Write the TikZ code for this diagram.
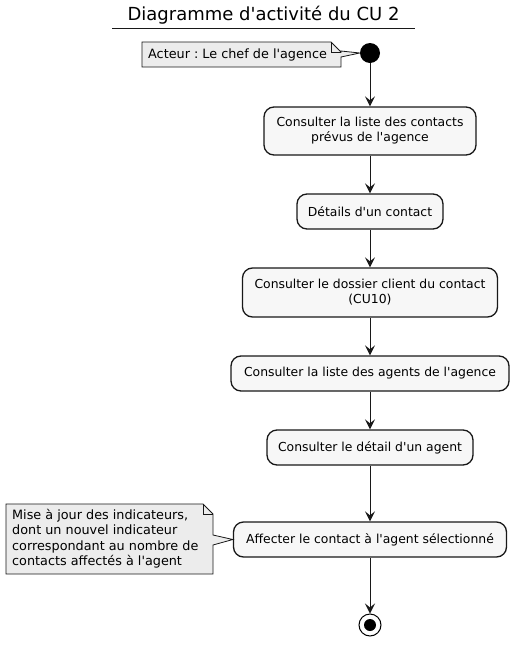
\documentclass[tikz,border=0pt]{standalone}
\usepackage{fontspec}
\setmainfont{DejaVu Sans}[Ligatures=TeXOff]
\frenchspacing
\usetikzlibrary{arrows.meta}
\definecolor{actfill}{HTML}{F7F7F7}
\definecolor{notefill}{HTML}{ECECEC}
\definecolor{ink}{HTML}{181818}
\tikzset{
  act/.style={draw=ink, line width=1.3pt, fill=actfill, rounded corners=10pt,
    align=center, inner sep=0pt, font=\fontsize{12.4}{15}\selectfont, text=black},
  notetext/.style={align=left, inner sep=0pt, font=\fontsize{12.8}{15.5}\selectfont, text=black, anchor=north west},
  noteline/.style={draw=ink, line width=0.8pt, fill=notefill},
  arr/.style={draw=ink, line width=1pt, -{Stealth[length=10pt,width=10pt,inset=4pt]}},
}
\begin{document}
\begin{tikzpicture}[x=1pt,y=-1pt]
\useasboundingbox (0,0) rectangle (519,646);
% title
\node[inner sep=0pt, anchor=base, font=\fontsize{18}{21}\selectfont] (title) at (263.5,20) {Diagramme d'activité du CU 2};
\coordinate (ul1) at (112,28);
\coordinate (ul2) at (415,28);
\draw[ink, line width=1pt] (ul1) -- (ul2);
% start
\node[circle, fill=black, minimum size=20pt, inner sep=0pt] (start) at (370,53) {};
% activities
\node[act, minimum width=212pt, minimum height=48pt] (a1) at (370,131) {Consulter la liste des contacts\\prévus de l'agence};
\node[act, minimum width=146pt, minimum height=35pt] (a2) at (370,211.5) {Détails d'un contact};
\node[act, minimum width=255pt, minimum height=49pt] (a3) at (370,292.5) {Consulter le dossier client du contact\\(CU10)};
\node[act, minimum width=278pt, minimum height=35pt] (a4) at (370,373.5) {Consulter la liste des agents de l'agence};
\node[act, minimum width=206pt, minimum height=35pt] (a5) at (370,447.5) {Consulter le détail d'un agent};
\node[act, minimum width=273pt, minimum height=35pt] (a6) at (370,539.5) {Affecter le contact à l'agent sélectionné};
% end
\node[circle, draw=black, line width=1pt, fill=white, minimum size=22pt, inner sep=0pt] (stop) at (370,625) {};
\node[circle, fill=black, minimum size=12pt, inner sep=0pt] (stopdot) at (stop.center) {};
% arrows
\draw[arr] (start) -- (a1);
\draw[arr] (a1) -- (a2);
\draw[arr] (a2) -- (a3);
\draw[arr] (a3) -- (a4);
\draw[arr] (a4) -- (a5);
\draw[arr] (a5) -- (a6);
\draw[arr] (a6) -- (stop);
% note 1
\draw[noteline] (142,42) -- (331,42) -- (341,52) -- (341,51) -- (start.west) -- (341,57) -- (341,67) -- (142,67) -- cycle;
\draw[ink, line width=0.8pt] (331,42) -- (331,52) -- (341,52);
\node[notetext, anchor=west] (n1) at (148,54.5) {Acteur : Le chef de l'agence};
% note 2
\draw[noteline] (6,504) -- (203,504) -- (213,514) -- (213,535) -- (a6.west) -- (213,545) -- (213,574) -- (6,574) -- cycle;
\draw[ink, line width=0.8pt] (203,504) -- (203,514) -- (213,514);
\node[notetext] (n2) at (12,509) {Mise à jour des indicateurs,\\dont un nouvel indicateur\\correspondant au nombre de\\contacts affectés à l'agent};
\end{tikzpicture}
\end{document}
